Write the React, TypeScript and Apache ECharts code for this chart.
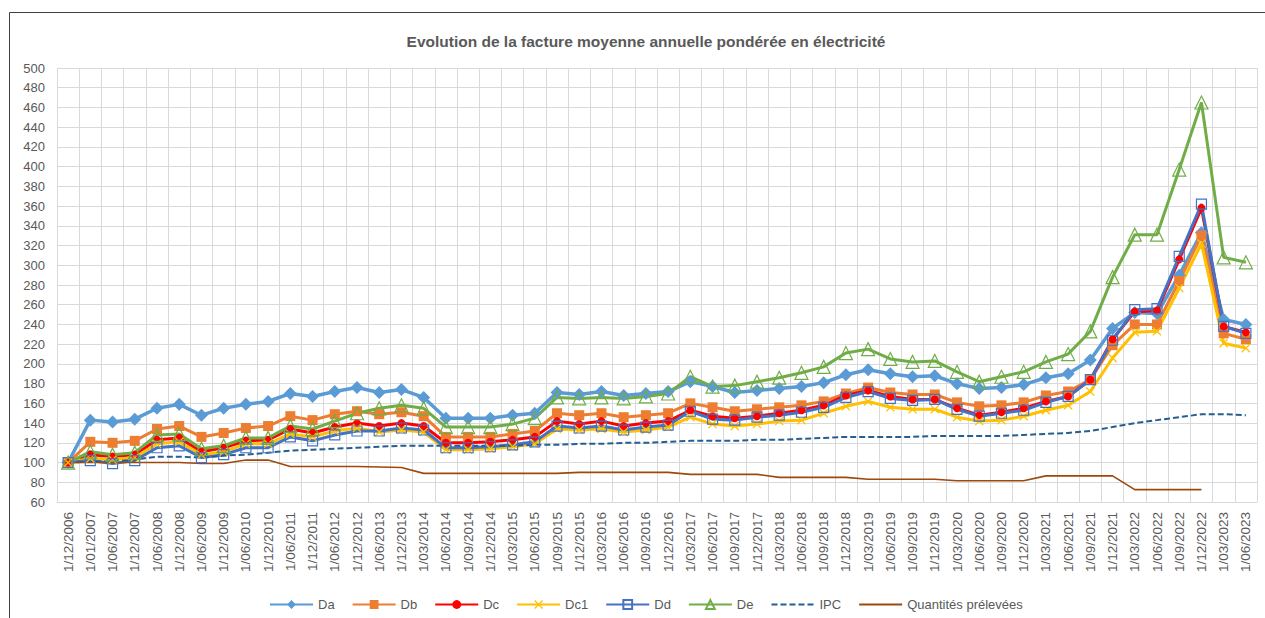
import React, { useEffect, useRef } from "react";
import * as echarts from "echarts";

const categories = [
  "1/12/2006", "1/01/2007", "1/06/2007", "1/12/2007", "1/06/2008", "1/12/2008",
  "1/06/2009", "1/12/2009", "1/06/2010", "1/12/2010", "1/06/2011", "1/12/2011",
  "1/06/2012", "1/12/2012", "1/06/2013", "1/12/2013", "1/03/2014", "1/06/2014",
  "1/09/2014", "1/12/2014", "1/03/2015", "1/06/2015", "1/09/2015", "1/12/2015",
  "1/03/2016", "1/06/2016", "1/09/2016", "1/12/2016", "1/03/2017", "1/06/2017",
  "1/09/2017", "1/12/2017", "1/03/2018", "1/06/2018", "1/09/2018", "1/12/2018",
  "1/03/2019", "1/06/2019", "1/09/2019", "1/12/2019", "1/03/2020", "1/06/2020",
  "1/09/2020", "1/12/2020", "1/03/2021", "1/06/2021", "1/09/2021", "1/12/2021",
  "1/03/2022", "1/06/2022", "1/09/2022", "1/12/2022", "1/03/2023", "1/06/2023",
];

const da = [
  100, 143, 141, 144, 155, 159, 148, 155, 159, 162, 170, 167, 172, 176, 171, 174, 166, 145,
  145, 145, 148, 150, 171, 169, 172, 168, 170, 172, 182, 177, 171, 173, 175, 177, 181, 189,
  194, 190, 187, 188, 180, 175, 176, 179, 186, 190, 204, 236, 252, 251, 290, 333, 245, 240,
];
const db = [
  100, 121, 120, 122, 134, 137, 126, 130, 135, 137, 147, 143, 149, 152, 149, 151, 147, 126,
  126, 126, 129, 132, 150, 148, 150, 146, 148, 150, 160, 156, 152, 154, 156, 158, 162, 170,
  176, 171, 169, 169, 161, 157, 158, 161, 168, 172, 184, 219, 240, 240, 284, 330, 231, 225,
];
const dc = [
  100, 108, 106, 108, 123, 125, 111, 115, 122, 123, 134, 130, 136, 140, 137, 140, 137, 120,
  120, 121, 123, 126, 142, 139, 142, 137, 140, 142, 153, 147, 145, 147, 150, 153, 158, 168,
  173, 167, 164, 164, 155, 148, 151, 155, 162, 167, 184, 225, 253, 254, 306, 358, 238, 232,
];
const dc1 = [
  100, 104, 103, 105, 119, 121, 108, 111, 119, 119, 129, 126, 132, 135, 131, 133, 131, 113,
  113, 114, 116, 119, 134, 133, 134, 131, 133, 136, 146, 139, 137, 139, 142, 143, 150, 157,
  162, 156, 154, 154, 146, 142, 143, 147, 153, 158, 172, 206, 232, 233, 277, 322, 221, 216,
];
const dd = [
  100, 102, 99, 102, 115, 117, 105, 108, 115, 115, 126, 122, 128, 132, 132, 135, 133, 115,
  115, 116, 118, 121, 137, 135, 137, 133, 136, 138, 152, 144, 143, 146, 148, 151, 156, 166,
  172, 165, 163, 164, 154, 147, 150, 153, 161, 167, 184, 224, 255, 256, 309, 362, 238, 231,
];
const de = [
  100, 111, 108, 110, 128, 129, 114, 117, 125, 125, 137, 134, 142, 150, 155, 158, 155, 136,
  136, 136, 139, 145, 166, 165, 166, 165, 167, 170, 187, 177, 178, 182, 186, 191, 197, 211,
  215, 205, 202, 203, 192, 182, 187, 192, 202, 210, 233, 288, 331, 331, 397, 465, 308, 303,
];
const ipc = [
  100, 101, 101, 103, 106, 106, 105, 107, 108, 110, 112, 113, 114, 115, 116, 117, 117, 117,
  117, 117, 117, 118, 118, 119, 119, 120, 120, 121, 122, 122, 122, 123, 123, 124, 125, 126,
  126, 126, 126, 127, 127, 127, 127, 128, 129, 130, 132, 136, 140, 143, 146, 149, 149, 148,
];
const quantites = [
  100, 100, 100, 100, 100, 100, 99, 99, 102.5, 102.5, 96, 96, 96, 96, 95.5, 95, 89, 89,
  89, 89, 89, 89, 89, 90, 90, 90, 90, 90, 88, 88, 88, 88, 85, 85, 85, 85,
  83, 83, 83, 83, 81.5, 81.5, 81.5, 81.5, 86.5, 86.5, 86.5, 86.5, 72.5, 72.5, 72.5, 72.5, null, null,
];

const legendNames = ["Da", "Db", "Dc", "Dc1", "Dd", "De", "IPC", "Quantités prélevées"];

const yMin = 60;
const yMax = 500;
const yStep = 20;

const X_SYMBOL = "path://M0,1L1,0L5,4L9,0L10,1L6,5L10,9L9,10L5,6L1,10L0,9L4,5Z";

export default function App() {
  const ref = useRef<HTMLDivElement>(null);

  useEffect(() => {
    if (!ref.current) return;
    const chart = echarts.init(ref.current, null, { renderer: "svg" });
    const font = "'Liberation Sans', Arial, sans-serif";
    const textColor = "#595959";
    const gridColor = "#D9D9D9";

    const line = (
      name: string,
      data: (number | null)[],
      color: string,
      width: number,
      symbol: string,
      symbolSize: number,
      itemStyle: any,
      extra: any = {}
    ) => ({
      name,
      type: "line",
      data,
      symbol,
      symbolSize,
      showSymbol: symbol !== "none",
      lineStyle: { color, width, ...(extra.lineStyle || {}) },
      itemStyle,
      emphasis: { disabled: true },
    });

    const noSymbol = ["IPC", "Quantités prélevées"];

    chart.setOption({
      animation: false,
      backgroundColor: "#ffffff",
      title: {
        text: "Evolution de la facture moyenne annuelle pondérée en électricité",
        left: 641,
        textAlign: "center",
        top: 28,
        textStyle: { fontFamily: font, fontSize: 15.5, fontWeight: "bold", color: textColor },
      },
      legend: {
        left: 264,
        top: 593,
        itemWidth: 43,
        itemHeight: 11,
        itemGap: 17,
        textStyle: { fontFamily: font, fontSize: 13, color: textColor },
        data: legendNames.map((n) =>
          noSymbol.includes(n)
            ? { name: n, itemStyle: { color: "transparent", borderWidth: 0, opacity: 0 } }
            : { name: n }
        ),
      },
      grid: { left: 57, right: 8, top: 68, bottom: 116, containLabel: false },
      xAxis: {
        type: "category",
        data: categories,
        boundaryGap: true,
        axisLine: { show: true, lineStyle: { color: gridColor, width: 1 } },
        axisTick: { show: false },
        splitLine: { show: true, interval: 0, lineStyle: { color: gridColor, width: 1 } },
        axisLabel: {
          interval: 0,
          rotate: 90,
          margin: 10,
          fontFamily: font,
          fontSize: 13.5,
          color: textColor,
        },
      },
      yAxis: {
        type: "value",
        min: yMin,
        max: yMax,
        interval: yStep,
        axisLine: { show: false },
        axisTick: { show: false },
        splitLine: { show: true, lineStyle: { color: gridColor, width: 1 } },
        axisLabel: { fontFamily: font, fontSize: 13, color: textColor, margin: 12 },
      },
      graphic: [
        {
          type: "line",
          shape: { x1: 9.5, y1: 12.5, x2: 1265, y2: 12.5 },
          style: { stroke: "#404040", lineWidth: 1 },
        },
        {
          type: "line",
          shape: { x1: 9.5, y1: 12.5, x2: 9.5, y2: 618 },
          style: { stroke: "#404040", lineWidth: 1 },
        },
      ],
      series: [
        line("Da", da, "#5B9BD5", 3.5, "diamond", 13, { color: "#5B9BD5" }),
        line("Db", db, "#ED7D31", 3, "rect", 10, { color: "#ED7D31" }),
        line("Dc", dc, "#FF0000", 3, "circle", 8, { color: "#FF0000" }),
        line("Dc1", dc1, "#FFC000", 3, X_SYMBOL, 9, { color: "#FFC000" }),
        line("Dd", dd, "#4472C4", 3, "rect", 10, {
          color: "transparent",
          borderColor: "#4472C4",
          borderWidth: 1.2,
        }),
        line("De", de, "#70AD47", 3, "triangle", 13, {
          color: "transparent",
          borderColor: "#70AD47",
          borderWidth: 1.2,
        }),
        line("IPC", ipc, "#255E91", 2, "none", 0, { color: "#255E91" }, {
          lineStyle: { type: [6, 3] },
        }),
        line("Quantités prélevées", quantites, "#9E480E", 1.6, "none", 0, { color: "#9E480E" }),
      ],
    });

    return () => chart.dispose();
  }, []);

  return (
    <div
      ref={ref}
      style={{ position: "absolute", left: 0, top: 0, width: 1265, height: 618, background: "#fff" }}
    />
  );
}
